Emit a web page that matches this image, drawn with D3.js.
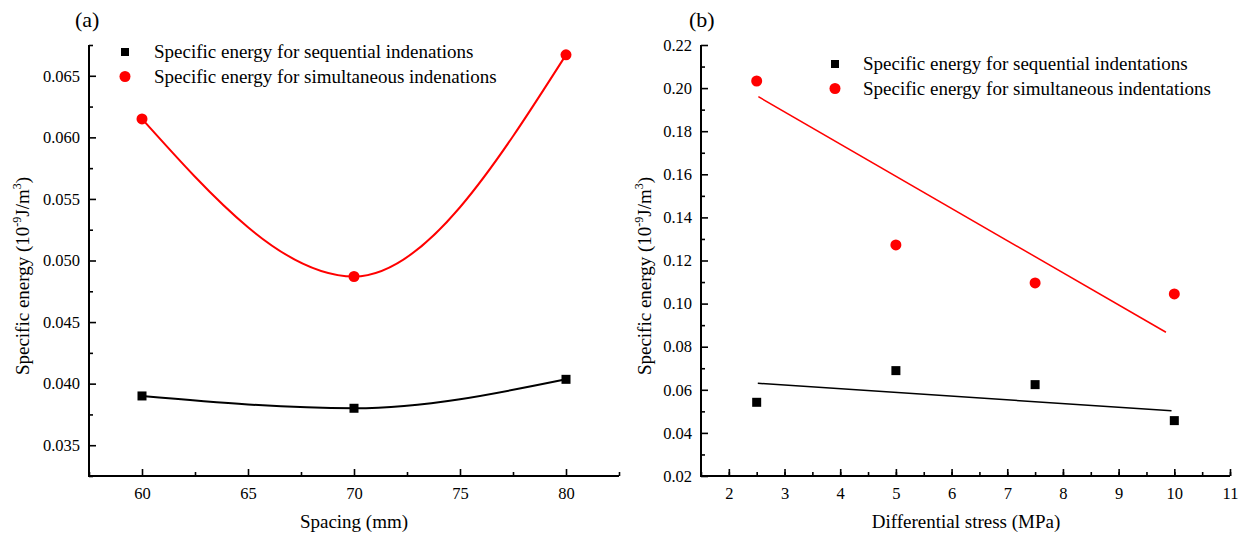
<!DOCTYPE html>
<html><head><meta charset="utf-8">
<script src="https://cdn.jsdelivr.net/npm/d3@7"></script>
<style>
body{margin:0;background:#fff;}
svg, svg text{font-family:"Liberation Serif","Times New Roman",serif !important;fill:#000;}
</style></head>
<body><svg id="c" width="1249" height="535"></svg>
<script>
// Panel (a) data
const spacing = [60, 70, 80];
const seqA = [0.0390, 0.0380, 0.04035];
const simA = [0.0615, 0.0487, 0.0667];
const xTicksA = [60, 65, 70, 75, 80];
const yTicksA = [0.035, 0.040, 0.045, 0.050, 0.055, 0.060, 0.065];

// Panel (b) data
const stress = [2.5, 5, 7.5, 10];
const seqB = [0.0542, 0.0689, 0.0624, 0.0457];
const simB = [0.2033, 0.1272, 0.1096, 0.1045];
const fitSeqX = [2.52, 9.95];
const fitSeqY = [0.0630, 0.0503];
const fitSimX = [2.53, 9.85];
const fitSimY = [0.1960, 0.0867];
const xTicksB = [2, 3, 4, 5, 6, 7, 8, 9, 10, 11];
const yTicksB = [0.02, 0.04, 0.06, 0.08, 0.10, 0.12, 0.14, 0.16, 0.18, 0.20, 0.22];

const legendLabelsA = ["Specific energy for sequential indenations", "Specific energy for simultaneous indenations"];
const legendLabelsB = ["Specific energy for sequential indentations", "Specific energy for simultaneous indentations"];

const svg = d3.select("#c");
const RED = "#ff0000";
const FONT = "Liberation Serif";

function yLabel(g, x, y) {
  const t = g.append("text").attr("transform", `translate(${x},${y}) rotate(-90)`)
    .attr("text-anchor", "middle").attr("font-size", 19).attr("font-family", FONT);
  t.append("tspan").text("Specific energy (10");
  t.append("tspan").attr("dy", -8).attr("font-size", 12).text("-9");
  t.append("tspan").attr("dy", 8).text("J/m");
  t.append("tspan").attr("dy", -8).attr("font-size", 12).text("3");
  t.append("tspan").attr("dy", 8).text(")");
}

function drawAxes(g, x, y, xt, xminor, yt, yminor, xfmt, yfmt) {
  const [x0, x1] = x.range(), [y0, y1] = y.range();
  const xa = d3.axisBottom(x).tickValues(xt).tickSize(-7).tickPadding(11).tickFormat(xfmt);
  const xm = d3.axisBottom(x).tickValues(xminor).tickSize(-4).tickFormat("");
  const ya = d3.axisLeft(y).tickValues(yt).tickSize(-7).tickPadding(9).tickFormat(yfmt);
  const ym = d3.axisLeft(y).tickValues(yminor).tickSize(-4).tickFormat("");
  [[xa, "x"], [xm, "x"], [ya, "y"], [ym, "y"]].forEach(([ax, k]) => {
    const a = g.append("g").attr("transform", k === "x" ? `translate(0,${y0})` : `translate(${x0},0)`).call(ax);
    a.attr("font-family", FONT).attr("font-size", 16.5);
    a.select(".domain").remove();
    a.selectAll("line").attr("stroke", "#000").attr("stroke-width", 1.6);
    a.selectAll("text").attr("font-size", 16.5).attr("font-family", FONT);
  });
  g.append("line").attr("x1", x0).attr("x2", x1).attr("y1", y0).attr("y2", y0).attr("stroke", "#000").attr("stroke-width", 2);
  g.append("line").attr("x1", x0).attr("x2", x0).attr("y1", y0 + 1).attr("y2", y1).attr("stroke", "#000").attr("stroke-width", 2);
}

// ---- Panel (a)
{
  const g = svg.append("g");
  const x = d3.scaleLinear().domain([57.5, 82.5]).range([89, 619]);
  const y = d3.scaleLinear().domain([0.0325, 0.0675]).range([476, 45]);
  const xminor = d3.range(57.5, 82.6, 5);
  const yminor = d3.range(0.0325, 0.0676, 0.005);
  drawAxes(g, x, y, xTicksA, xminor, yTicksA, yminor, d3.format("d"), d3.format(".3f"));
  const line = d3.line().x((d, i) => x(spacing[i])).y(d => y(d)).curve(d3.curveMonotoneX);
  g.append("path").attr("d", line(seqA)).attr("fill", "none").attr("stroke", "#000").attr("stroke-width", 2);
  g.append("path").attr("d", line(simA)).attr("fill", "none").attr("stroke", RED).attr("stroke-width", 2);
  g.selectAll(".sq").data(seqA).join("rect").attr("x", (d, i) => x(spacing[i]) - 4.5).attr("y", d => y(d) - 4.5)
    .attr("width", 9).attr("height", 9).attr("fill", "#000");
  g.selectAll(".ci").data(simA).join("circle").attr("cx", (d, i) => x(spacing[i])).attr("cy", d => y(d)).attr("r", 5.5).attr("fill", RED);
  g.append("text").attr("x", 354).attr("y", 528).attr("text-anchor", "middle").attr("font-size", 19).attr("font-family", FONT).text("Spacing (mm)");
  yLabel(g, 29, 276);
  g.append("text").attr("x", 75).attr("y", 27).attr("font-size", 22).attr("font-family", FONT).text("(a)");
  g.append("rect").attr("x", 121).attr("y", 48).attr("width", 8).attr("height", 8).attr("fill", "#000");
  g.append("circle").attr("cx", 125).attr("cy", 76.5).attr("r", 5.5).attr("fill", RED);
  g.append("text").attr("x", 154).attr("y", 58).attr("font-size", 19).attr("font-family", FONT).text(legendLabelsA[0]);
  g.append("text").attr("x", 154).attr("y", 82.5).attr("font-size", 19).attr("font-family", FONT).text(legendLabelsA[1]);
}

// ---- Panel (b)
{
  const g = svg.append("g");
  const x = d3.scaleLinear().domain([1.5, 11]).range([701, 1230]);
  const y = d3.scaleLinear().domain([0.02, 0.22]).range([476, 45]);
  const xminor = d3.range(1.5, 11.01, 0.5);
  const yminor = d3.range(0.03, 0.221, 0.02);
  drawAxes(g, x, y, xTicksB, xminor, yTicksB, yminor, d3.format("d"), d3.format(".2f"));
  const fl = d3.line().x(d => x(d[0])).y(d => y(d[1]));
  g.append("path").attr("d", fl(d3.zip(fitSeqX, fitSeqY))).attr("fill", "none").attr("stroke", "#000").attr("stroke-width", 1.5);
  g.append("path").attr("d", fl(d3.zip(fitSimX, fitSimY))).attr("fill", "none").attr("stroke", RED).attr("stroke-width", 1.5);
  g.selectAll(".sq").data(seqB).join("rect").attr("x", (d, i) => x(stress[i]) - 4.5).attr("y", d => y(d) - 4.5)
    .attr("width", 9).attr("height", 9).attr("fill", "#000");
  g.selectAll(".ci").data(simB).join("circle").attr("cx", (d, i) => x(stress[i])).attr("cy", d => y(d)).attr("r", 5.5).attr("fill", RED);
  g.append("text").attr("x", 966).attr("y", 528).attr("text-anchor", "middle").attr("font-size", 19).attr("font-family", FONT).text("Differential stress (MPa)");
  yLabel(g, 651, 276);
  g.append("text").attr("x", 689).attr("y", 27).attr("font-size", 22).attr("font-family", FONT).text("(b)");
  g.append("rect").attr("x", 831).attr("y", 60).attr("width", 8).attr("height", 8).attr("fill", "#000");
  g.append("circle").attr("cx", 835).attr("cy", 88.5).attr("r", 5.5).attr("fill", RED);
  g.append("text").attr("x", 863).attr("y", 70).attr("font-size", 19).attr("font-family", FONT).text(legendLabelsB[0]);
  g.append("text").attr("x", 863).attr("y", 94.5).attr("font-size", 19).attr("font-family", FONT).text(legendLabelsB[1]);
}
</script></body></html>
